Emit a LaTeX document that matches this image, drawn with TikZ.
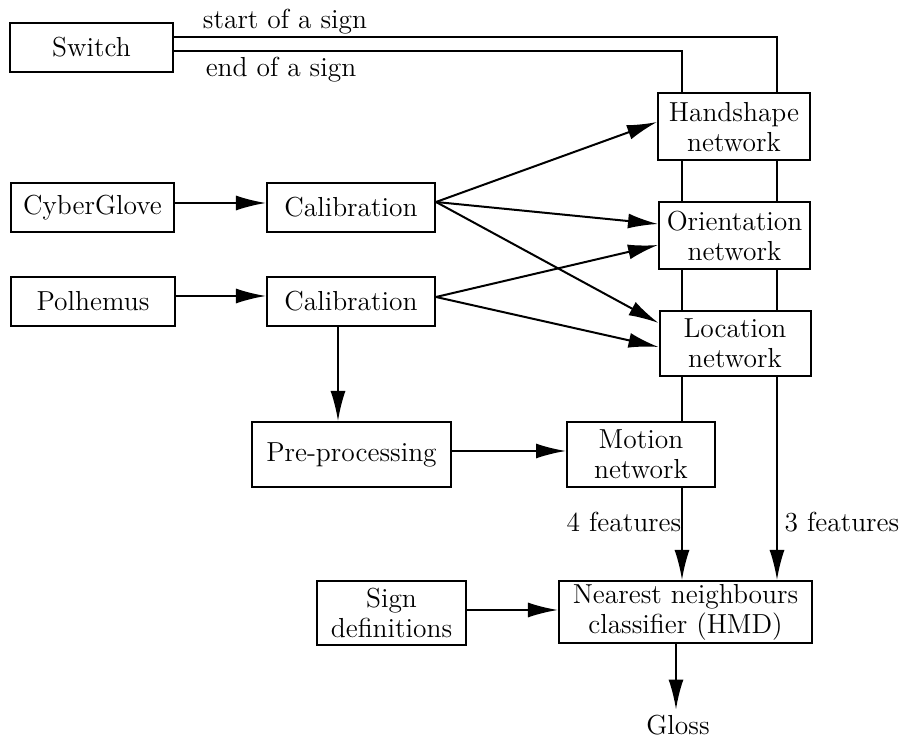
\documentclass[tikz,border=0pt]{standalone}
\usetikzlibrary{arrows.meta,calc}
\begin{document}
\begin{tikzpicture}[x=0.4pt,y=-0.4pt,
  every node/.style={font=\fontsize{11}{12}\selectfont},
  box/.style={draw,line width=0.8pt,inner sep=0pt,align=center},
  conn/.style={line width=0.8pt},
  arr/.style={line width=0.8pt,-{Latex[length=12pt,width=6pt]}},
  lbl/.style={inner sep=0pt}]
\useasboundingbox (0,0) rectangle (902,737);
% boxes
\node[box,minimum width=65.2pt,minimum height=19.6pt] (sw) at (91.5,47.5) {Switch};
\node[box,minimum width=65.2pt,minimum height=19.6pt] (cg) at (92.5,207.5) {CyberGlove};
\node[box,minimum width=67.2pt,minimum height=19.6pt] (cal1) at (351,207.5) {Calibration};
\node[box,minimum width=65.6pt,minimum height=19.6pt] (ph) at (93,301.5) {Polhemus};
\node[box,minimum width=67.2pt,minimum height=19.6pt] (cal2) at (351,301.5) {Calibration};
\node[box,minimum width=79.6pt,minimum height=26pt] (pre) at (351.5,454.5) {Pre-processing};
\node[box,minimum width=60.8pt,minimum height=26.8pt] (hs) at (734,127) {Handshape\\network};
\node[box,minimum width=60.4pt,minimum height=26.8pt] (or) at (734.5,235.5) {Orientation\\network};
\node[box,minimum width=60.4pt,minimum height=26pt] (loc) at (735,343.5) {Location\\network};
\node[box,minimum width=59.2pt,minimum height=26pt] (mot) at (641,454.5) {Motion\\network};
\node[box,minimum width=101.2pt,minimum height=24.8pt] (nn) at (685.5,612) {Nearest neighbours\\classifier (HMD)};
\node[box,minimum width=59.6pt,minimum height=25.6pt] (sd) at (391.5,613) {Sign\\definitions};
\node[lbl] (gloss) at (678,725) {Gloss};
% labels
\node[lbl] (ls) at (285,22) {start of a sign};
\node[lbl] (le) at (281,70) {end of a sign};
\node[lbl] (l4) at (624,522) {4 features};
\node[lbl] (l3) at (842,522) {3 features};
% lane coordinates
\coordinate (lx) at (682,0);
\coordinate (rx) at (777,0);
\coordinate (s1) at (0,37);
\coordinate (s2) at (0,51);
% switch lines
\draw[conn] (sw.east |- s1) -| (hs.north -| rx);
\draw[conn] (sw.east |- s2) -| (hs.north -| lx);
% lanes
\draw[conn] (hs.south -| lx) -- (or.north -| lx);
\draw[conn] (or.south -| lx) -- (loc.north -| lx);
\draw[conn] (loc.south -| lx) -- (mot.north -| lx);
\draw[arr] (mot.south -| lx) -- (nn.north -| lx);
\draw[conn] (hs.south -| rx) -- (or.north -| rx);
\draw[conn] (or.south -| rx) -- (loc.north -| rx);
\draw[arr] (loc.south -| rx) -- (nn.north -| rx);
% inputs
\draw[arr] ([yshift=1.8pt]cg.east) -- ([yshift=1.8pt]cal1.west);
\draw[arr] ([yshift=2.2pt]ph.east) -- ([yshift=2.2pt]cal2.west);
% fan
\draw[arr] ([yshift=2.2pt]cal1.east) -- ([yshift=2pt]hs.west);
\draw[arr] ([yshift=2.2pt]cal1.east) -- ([yshift=4.6pt]or.west);
\draw[arr] ([yshift=2.2pt]cal1.east) -- ([yshift=8.2pt]loc.west);
\draw[arr] ([yshift=1.8pt]cal2.east) -- ([yshift=-3.8pt]or.west);
\draw[arr] ([yshift=1.8pt]cal2.east) -- ([yshift=-1.4pt]loc.west);
% lower chain
\draw[arr] ([xshift=-5.2pt]cal2.south) -- ([xshift=-5.2pt]cal2.south |- pre.north);
\draw[arr] ([yshift=1.4pt]pre.east) -- ([yshift=1.4pt]pre.east -| mot.west);
\draw[arr] ([yshift=1.2pt]sd.east) -- ([yshift=1.2pt]sd.east -| nn.west);
\draw[arr] ([xshift=-3.8pt]nn.south) -- ([xshift=-3.8pt,yshift=2pt]nn.south |- gloss.north);
\end{tikzpicture}
\end{document}
